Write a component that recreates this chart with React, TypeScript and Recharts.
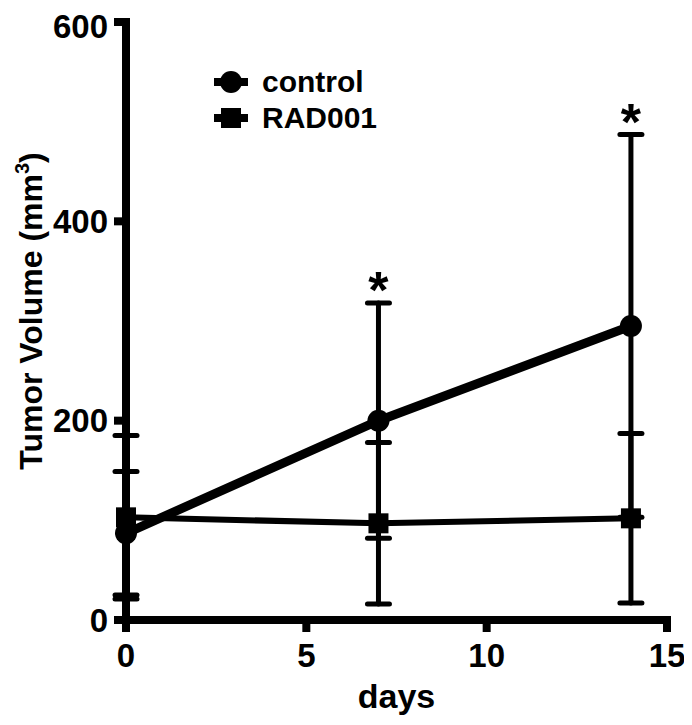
import { ComposedChart, Line, ErrorBar, XAxis, YAxis, Scatter, Legend, Label } from 'recharts';

const days = [0, 7, 14];
const controlMean = [87, 200, 295];
const controlSd = [62, 118, 192];
const radMean = [103, 97, 102];
const radSd = [82, 81, 85];
const significant = [false, true, true];
const seriesNames = ['control', 'RAD001'];
const xTicks = [0, 5, 10, 15];
const yTicks = [0, 200, 400, 600];

const data = days.map((d, i) => ({
  day: d,
  control: controlMean[i],
  controlErr: controlSd[i],
  rad: radMean[i],
  radErr: radSd[i],
}));

const stars = days
  .map((d, i) => ({ day: d, top: controlMean[i] + controlSd[i] }))
  .filter((_, i) => significant[i]);

const FONT = '"Liberation Sans", Arial, Helvetica, sans-serif';

function LegendBox() {
  return (
    <div style={{ fontFamily: FONT }}>
      {seriesNames.map((name, i) => (
        <div key={name} style={{ display: 'flex', alignItems: 'center', height: 36 }}>
          <svg width={38} height={36}>
            <line x1={2} y1={18} x2={36} y2={18} stroke="#000" strokeWidth={8} />
            {i === 0 ? (
              <circle cx={19} cy={18} r={11} fill="#000" />
            ) : (
              <rect x={9} y={8} width={20} height={20} fill="#000" />
            )}
          </svg>
          <span style={{ marginLeft: 12, fontSize: 30, fontWeight: 'bold', color: '#000', lineHeight: '36px' }}>
            {name}
          </span>
        </div>
      ))}
    </div>
  );
}

function YLabel(props: any) {
  const vb = props.viewBox;
  const x = 34;
  const y = vb.y + vb.height / 2 - 10;
  return (
    <text
      x={x}
      y={y}
      transform={`rotate(-90, ${x}, ${y})`}
      textAnchor="middle"
      fontSize={32}
      fontWeight="bold"
      fill="#000"
    >
      Tumor Volume (mm<tspan fontSize={20} dy={-13}>3</tspan>
      <tspan dy={13}>)</tspan>
    </text>
  );
}

function XLabel(props: any) {
  const vb = props.viewBox;
  return (
    <text x={vb.x + vb.width / 2} y={700} textAnchor="middle" fontSize={34} fontWeight="bold" fill="#000">
      days
    </text>
  );
}

function Star(props: any) {
  return (
    <text x={props.cx} y={props.cy + 5} textAnchor="middle" fontSize={52} fontWeight="bold" fill="#000">
      *
    </text>
  );
}

export default function App() {
  return (
    <div style={{ fontFamily: FONT }}>
      <ComposedChart width={684} height={717} data={data} margin={{ top: 14, right: 25, bottom: 5, left: 0 }}>
        <XAxis
          dataKey="day"
          type="number"
          domain={[0, 15]}
          ticks={xTicks}
          height={100}
          tickSize={12}
          tickMargin={12}
          axisLine={{ stroke: '#000', strokeWidth: 8, strokeLinecap: 'square' }}
          tickLine={{ stroke: '#000', strokeWidth: 8 }}
          tick={{ fill: '#000', fontSize: 33, fontWeight: 'bold' }}
        >
          <Label content={<XLabel />} />
        </XAxis>
        <YAxis
          type="number"
          domain={[0, 600]}
          ticks={yTicks}
          width={118}
          tickSize={12}
          tickMargin={6}
          axisLine={{ stroke: '#000', strokeWidth: 8, strokeLinecap: 'square' }}
          tickLine={{ stroke: '#000', strokeWidth: 8 }}
          tick={{ fill: '#000', fontSize: 33, fontWeight: 'bold' }}
        >
          <Label content={<YLabel />} />
        </YAxis>
        <Legend
          layout="vertical"
          align="center"
          verticalAlign="middle"
          content={<LegendBox />}
          wrapperStyle={{ left: 204, top: 56, width: 'auto' }}
        />
        <Line
          dataKey="rad"
          name="RAD001"
          type="linear"
          stroke="#000"
          strokeWidth={6}
          isAnimationActive={false}
          activeDot={false}
          dot={(p: any) => <rect key={`sq-${p.index}`} x={p.cx - 10} y={p.cy - 10} width={20} height={20} fill="#000" />}
        >
          <ErrorBar dataKey="radErr" direction="y" width={11} stroke="#000" strokeWidth={5} strokeLinecap="round" />
        </Line>
        <Line
          dataKey="control"
          name="control"
          type="linear"
          stroke="#000"
          strokeWidth={9}
          isAnimationActive={false}
          activeDot={false}
          dot={{ r: 11, fill: '#000', stroke: 'none' }}
        >
          <ErrorBar dataKey="controlErr" direction="y" width={11} stroke="#000" strokeWidth={5} strokeLinecap="round" />
        </Line>
        <Scatter data={stars} dataKey="top" legendType="none" shape={<Star />} isAnimationActive={false} />
      </ComposedChart>
    </div>
  );
}
